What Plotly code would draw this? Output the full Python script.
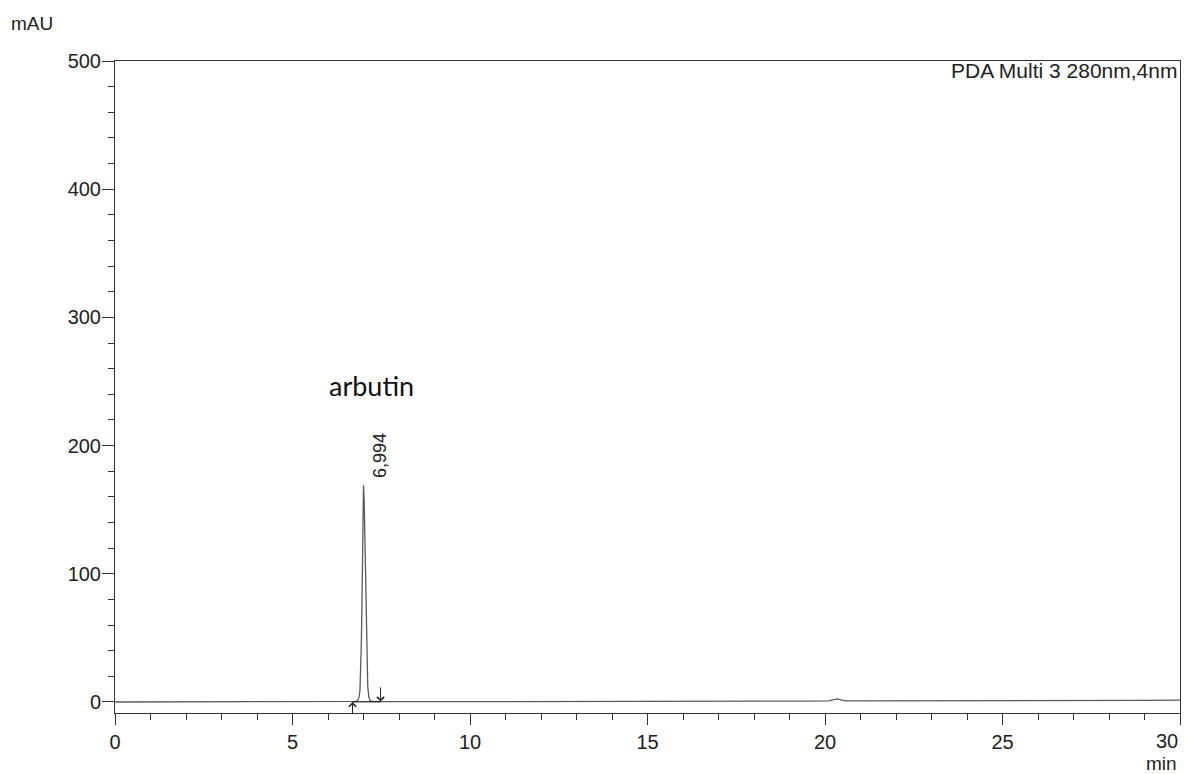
import plotly.graph_objects as go

# Chromatogram trace (retention time in min, absorbance in mAU)
time_min = [0.0, 1.0, 1.8, 1.9, 2.0, 4.0, 6.0, 6.6, 6.7, 6.8, 6.85, 6.88, 6.9, 6.92, 6.94,
            6.96, 6.98, 7.0, 7.02, 7.04, 7.06, 7.08, 7.1, 7.12, 7.15, 7.18, 7.22, 7.3,
            7.5, 9.0, 12.0, 15.0, 18.0, 18.8, 19.5, 20.1, 20.25, 20.35, 20.45, 20.6,
            21.0, 22.0, 23.0, 25.0, 27.0, 28.5, 29.0, 30.0]
signal_mau = [0.0, 0.0, 0.0, 0.4, 0.0, 0.0, 0.0, 0.0, 0.1, 0.5, 1.8, 4.5, 9.0, 23.0, 47.0,
              82.0, 123.0, 169.0, 156.0, 123.0, 84.0, 50.0, 26.0, 12.0, 4.0, 1.5, 0.6, 0.3,
              0.2, 0.2, 0.3, 0.4, 0.6, 0.7, 0.7, 0.9, 1.8, 2.4, 1.6, 0.9,
              0.8, 0.8, 0.9, 0.9, 1.0, 1.1, 1.3, 1.4]

# Peak integration marks and labels
peak_rt = 6.994
peak_height = 169.0
peak_label = "6,994"
peak_name = "arbutin"
peak_start = 6.69
peak_end = 7.48
channel_label = "PDA Multi 3 280nm,4nm"

x_ticks = [0, 5, 10, 15, 20, 25, 30]
y_ticks = [0, 100, 200, 300, 400, 500]

font_axis = "Liberation Sans, Arial, sans-serif"

fig = go.Figure()
fig.add_trace(go.Scatter(
    x=time_min, y=signal_mau, mode="lines",
    line=dict(color="#5a5a5a", width=1.3), hoverinfo="skip", showlegend=False,
))
# peak baseline segment
fig.add_trace(go.Scatter(
    x=[peak_start, peak_end], y=[0.1, 0.2], mode="lines",
    line=dict(color="#222222", width=1.2), hoverinfo="skip", showlegend=False,
))

annotations = [
    # start-of-peak arrow (pointing up)
    dict(x=peak_start, y=0, ax=peak_start, ay=-10.5, xref="x", yref="y", axref="x", ayref="y",
         showarrow=True, arrowhead=4, arrowsize=1.4, arrowwidth=1, arrowcolor="#222222", text=""),
    # end-of-peak arrow (pointing down)
    dict(x=peak_end, y=0.3, ax=peak_end, ay=12.5, xref="x", yref="y", axref="x", ayref="y",
         showarrow=True, arrowhead=4, arrowsize=1.4, arrowwidth=1, arrowcolor="#222222", text=""),
    dict(x=peak_rt, y=peak_height, text=peak_label, textangle=-90, showarrow=False,
         xref="x", yref="y", xanchor="center", yanchor="bottom", xshift=17, yshift=5,
         font=dict(family=font_axis, size=18, color="#222222")),
    dict(x=7.23, y=247, text=peak_name, showarrow=False, xref="x", yref="y",
         font=dict(family="Lato, Carlito, sans-serif", size=27, color="#111111")),
    dict(x=1, y=1, xref="paper", yref="paper", text=channel_label, showarrow=False,
         xanchor="right", yanchor="top", xshift=-1, yshift=4,
         font=dict(family=font_axis, size=21, color="#222222")),
    dict(x=0, y=1, xref="paper", yref="paper", text="mAU", showarrow=False,
         xanchor="left", yanchor="bottom", xshift=-106, yshift=25,
         font=dict(family=font_axis, size=19, color="#222222")),
    # last x tick label, pulled inside the page like the reference
    dict(x=1, y=0, xref="paper", yref="paper", text=str(x_ticks[-1]), showarrow=False,
         xanchor="right", yanchor="top", xshift=0, yshift=-15,
         font=dict(family=font_axis, size=20, color="#222222")),
    dict(x=1, y=0, xref="paper", yref="paper", text="min", showarrow=False,
         xanchor="right", yanchor="top", xshift=-1, yshift=-38,
         font=dict(family=font_axis, size=19, color="#222222")),
]

fig.update_layout(
    width=1185, height=774,
    margin=dict(l=115, r=5, t=61, b=61),
    paper_bgcolor="white", plot_bgcolor="white",
    annotations=annotations,
    showlegend=False,
)
fig.update_xaxes(
    range=[0, 30], tickvals=x_ticks,
    ticktext=[str(v) for v in x_ticks[:-1]] + [""],
    showgrid=False, zeroline=False, showline=True, linecolor="#333333", linewidth=1,
    mirror=True, ticks="outside", ticklen=11, tickcolor="#333333",
    minor=dict(dtick=1, ticks="outside", ticklen=6, tickcolor="#333333", showgrid=False),
    tickfont=dict(family=font_axis, size=20, color="#222222"),
)
fig.update_yaxes(
    range=[-8.6, 500], tickvals=y_ticks, ticktext=[str(v) for v in y_ticks],
    showgrid=False, zeroline=False, showline=True, linecolor="#333333", linewidth=1,
    mirror=True, ticks="outside", ticklen=12, tickcolor="#333333", ticklabelstandoff=-3,
    minor=dict(tickvals=[v for v in range(20, 500, 20) if v % 100 != 0], ticks="outside",
               ticklen=6, tickcolor="#333333", showgrid=False),
    tickfont=dict(family=font_axis, size=20, color="#222222"),
)

fig.write_html(
    "out.html",
    config={"displayModeBar": False},
    post_script="document.body.style.margin='0';document.body.style.overflow='hidden';",
)
